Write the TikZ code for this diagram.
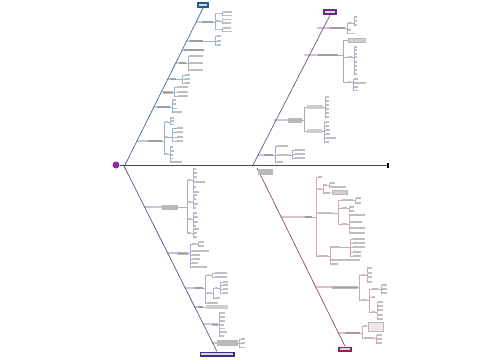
\documentclass[tikz,border=0pt]{standalone}
\usetikzlibrary{calc}
\definecolor{tlcol}{HTML}{1F5C99}
\definecolor{trcol}{HTML}{6B2D82}
\definecolor{blcol}{HTML}{3C2F8A}
\definecolor{brcol}{HTML}{8E2457}
\definecolor{headcol}{HTML}{8A2BB0}
\tikzset{
  leaf/.style={rectangle, anchor=west, fill=gray!50, inner sep=0pt, minimum height=1.6pt},
  leaftwo/.style={leaf, fill=gray!38, minimum height=4pt},
  lbl/.style={rectangle, anchor=west, fill=gray!75, inner sep=0pt, minimum height=2.6pt},
  lbltwo/.style={lbl, fill=gray!55, minimum height=5pt},
  boxed/.style={draw=gray!55, line width=0.4pt},
  twig/.style={draw=gray!60, line width=0.35pt},
  rib/.style={draw=gray!70, line width=0.55pt},
  bone/.style={line width=0.7pt},
  catbox/.style={rectangle, fill=#1, inner sep=0pt, minimum height=6pt}
}
% leaves fanned out from a parent node: [elbow]{parent}{x}{y/width,...}
\newcommand{\fanout}[4][1.5]{%
  \foreach \yy/\ww [count=\k] in {#4} {
    \node[leaf, minimum width=\ww] (#2-\k) at (#3,\yy) {};
    \draw[twig] (#2.east) -- ++(#1,0) |- (#2-\k.west);
  }}
% horizontal rib from a bone to a branch label
\newcommand{\ribline}[3]{%
  \draw[rib] (intersection of #1--#2 and #3.west--#3.east) -- (#3.west);}
\begin{document}
\begin{tikzpicture}[x=1pt,y=-1pt]
\useasboundingbox (0,0) rectangle (500,360);

% head, tail and spine
\node[circle, fill=headcol, minimum size=7pt, inner sep=0pt] (head) at (116,165) {};
\node[rectangle, fill=black, minimum width=1.4pt, minimum height=5pt, inner sep=0pt] (tail) at (388,165) {};
\draw[line width=0.9pt, gray!60!black] (head) -- (tail);

% category boxes
\node[catbox=tlcol, minimum width=12pt] (tltop) at (203,5) {};
\node[catbox=trcol, minimum width=14pt] (trtop) at (330,12) {};
\node[catbox=blcol, minimum width=35pt, minimum height=5pt] (blbot) at (217,354) {};
\node[catbox=brcol, minimum width=14pt, minimum height=5pt] (brbot) at (345,349) {};
\foreach \b in {tltop,trtop,blbot,brbot}
  \fill[white!70!gray] ($(\b.west)+(1.8,-0.7)$) rectangle ($(\b.east)+(-1.8,0.7)$);

% bones
\coordinate (tl-a) at (125,165);
\coordinate (tl-b) at (203,8);
\coordinate (tr-a) at (253,165);
\coordinate (tr-b) at (323,15);
\coordinate (bl-a) at (124,166);
\coordinate (bl-b) at (216,351.5);
\coordinate (br-a) at (257,168);
\coordinate (br-b) at (344,346.5);
\draw[bone, tlcol!60!gray] (tl-a) -- (tltop.south);
\draw[bone, trcol!55!gray] (tr-a) -- (trtop.south);
\draw[bone, blcol!55!gray] (bl-a) -- (blbot.north);
\draw[bone, brcol!55!gray] (br-a) -- (brbot.north);

% top left
\begin{scope}[twig/.append style={draw=tlcol!45}, rib/.append style={draw=tlcol!50!gray}]
\node[lbl, minimum width=11] (tl1) at (202,22) {};
\ribline{tl-a}{tl-b}{tl1}
\fanout{tl1}{216}{13.5/4,21/4,29.5/4}
\fanout{tl1-1}{223}{12/9,15.5/9}
\fanout{tl1-2}{223}{19.5/8,23/8}
\fanout{tl1-3}{223}{28/8,31.5/9}
\node[lbl, minimum width=13] (tl2) at (190,41) {};
\ribline{tl-a}{tl-b}{tl2}
\fanout[12]{tl2}{217}{36/4,41/4,45/4}
\node[lbl, minimum width=20] (tl3) at (184,50) {};
\ribline{tl-a}{tl-b}{tl3}
\node[lbl, minimum width=7] (tl4) at (179,63) {};
\ribline{tl-a}{tl-b}{tl4}
\fanout{tl4}{189}{56/14,63/14,70/14}
\node[lbl, minimum width=6] (tl5) at (170,79) {};
\ribline{tl-a}{tl-b}{tl5}
\fanout[6]{tl5}{185}{75/5,79/5,83/5}
\node[lbl, boxed, minimum width=9] (tl6) at (163,92) {};
\ribline{tl-a}{tl-b}{tl6}
\fanout{tl6}{178}{87/10,92/10,96/10}
\node[lbl, minimum width=13] (tl7) at (157,107) {};
\ribline{tl-a}{tl-b}{tl7}
\fanout{tl7}{172}{100/4,104/4,108.5/5,112/10}
\node[lbl, minimum width=14] (tl8) at (148,141) {};
\ribline{tl-a}{tl-b}{tl8}
\fanout{tl8}{165}{122/3,137/3,154/3}
\fanout{tl8-1}{170}{118/4,121/4,124.5/4}
\fanout[4]{tl8-2}{177}{128/6,132/6,137/6,141/6}
\fanout{tl8-3}{170}{147/3,151/4,155/3,158.5/3,162/12}
\end{scope}

% top right
\begin{scope}[twig/.append style={draw=trcol!45}, rib/.append style={draw=trcol!50!gray}]
\node[lbl, minimum width=15] (tr1) at (330,28) {};
\ribline{tr-a}{tr-b}{tr1}
\fanout[2]{tr1}{348}{23/4,30/3,33.5/7}
\fanout{tr1-1}{354}{17/3,21/3,25/3}
\node[lbl, minimum width=20] (tr2) at (318,55) {};
\ribline{tr-a}{tr-b}{tr2}
\fanout[5]{tr2}{348}{57/4,82/3}
\node[leaftwo, boxed, minimum width=17] (tr2-0) at (348,40) {};
\draw[twig] (tr2.east) -- ++(5,0) |- (tr2-0.west);
\fanout{tr2-1}{354}{47/3,50/3,54/3,57/3,62/3,66/3,70/3,74/3}
\fanout{tr2-2}{354}{79/4,83/12,87/4,90.5/4}
\node[lbltwo, minimum width=14] (tr3) at (288,120) {};
\ribline{tr-a}{tr-b}{tr3}
\node[leaftwo, minimum width=16] (tr3-a) at (307,107) {};
\node[leaftwo, minimum width=15] (tr3-b) at (307,131) {};
\foreach \s in {tr3-a,tr3-b}
  \draw[twig] (tr3.east) -- ++(2,0) |- (\s.west);
\fanout{tr3-a}{326}{97/3,101/3,105/3,109/3,113/3,117/3}
\fanout{tr3-b}{326}{122/3,126/3,130/4,134/4,138/10,142/3}
\node[lbl, minimum width=9] (tr4) at (264,155) {};
\ribline{tr-a}{tr-b}{tr4}
\fanout{tr4}{277}{146/11,155/13,162/6}
\fanout[2]{tr4-2}{295}{150/10,154/10,158/10}
\end{scope}

% bottom left
\begin{scope}[twig/.append style={draw=blcol!40}, rib/.append style={draw=blcol!45!gray}]
\node[lbltwo, minimum width=16] (bl1) at (162,207) {};
\ribline{bl-a}{bl-b}{bl1}
\fanout[9]{bl1}{188}{180/3,202/3,219/3,233/3}
\fanout{bl1-1}{193}{169/3,173/4,177/4,182/12,187/3,192/6}
\fanout{bl1-2}{193}{195/4,199/3,204/5,208/3}
\fanout{bl1-3}{193}{213/4,217/5,222/5,226/3}
\fanout{bl1-4}{193}{229/6,233/4,237/4}
\node[lbl, boxed, minimum width=10] (bl2) at (177,253) {};
\ribline{bl-a}{bl-b}{bl2}
\fanout[3]{bl2}{192}{244/4,251/17,255/8,259/8,263/6,267/15}
\fanout{bl2-1}{199}{242/5,246/5}
\node[lbl, minimum width=8] (bl3) at (195,288) {};
\ribline{bl-a}{bl-b}{bl3}
\fanout[2]{bl3}{207}{275/3,293/4,303/11}
\fanout{bl3-1}{215}{273/12,277/12}
\fanout{bl3-2}{215}{288/3,298/5}
\fanout[2]{bl3-2-1}{223}{282/5,285/5,289/5,293/5}
\node[lbl, minimum width=5] (bl4) at (198,307) {};
\ribline{bl-a}{bl-b}{bl4}
\node[leaftwo, minimum width=22] (bl4-1) at (206,307) {};
\draw[twig] (bl4.east) -- (bl4-1.west);
\node[lbl, boxed, minimum width=5] (bl5) at (212,324) {};
\ribline{bl-a}{bl-b}{bl5}
\fanout{bl5}{219}{313/6,317/6,321/6,325/5,328.5/6,332/8,336/5}
\node[lbltwo, boxed, minimum width=20] (bl6) at (217,343) {};
\ribline{bl-a}{bl-b}{bl6}
\fanout{bl6}{241}{339/4,343/4,347.5/4}
\end{scope}

% bottom right
\begin{scope}[twig/.append style={draw=brcol!40}, rib/.append style={draw=brcol!45!gray}]
\node[lbltwo, boxed, minimum width=14] (br0) at (258,171.5) {};
\node[lbl, minimum width=7] (br1) at (305,217) {};
\ribline{br-a}{br-b}{br1}
\fanout[4]{br1}{318}{177/4,189/3,213/14,256/10}
\fanout{br1-2}{323}{185/4,193/7}
\fanout{br1-2-1}{330}{183/5,187/16}
\node[leaftwo, boxed, minimum width=15] (br1-2-2-1) at (332,192) {};
\draw[twig] (br1-2-2.east) -- (br1-2-2-1.west);
\fanout[6]{br1-3}{342}{200/11,208/5,224/5}
\fanout{br1-3-1}{356}{198/5,203/5}
\fanout{br1-3-2}{349}{207/5,211/5}
\fanout{br1-3-3}{349}{215/16,222/13,228/16,233/16}
\fanout{br1-4}{330}{247/10,260/30,264/8}
\fanout[10]{br1-4-1}{353}{239/12,243/12,247/12,252/8,256/8}
\node[lbl, boxed, minimum width=25] (br2) at (332,287) {};
\ribline{br-a}{br-b}{br2}
\fanout[2]{br2}{361}{275/4,300/6}
\fanout{br2-1}{367}{268/5,273/5,277/5,282/5}
\fanout{br2-2}{372}{289/6,297/3,312/3}
\fanout[3]{br2-2-1}{382}{285/5,289/5,293/5}
\fanout{br2-2-3}{378}{302/5,306/5,310/5,315/5,319/5}
\node[lbl, minimum width=15] (br3) at (345,333) {};
\ribline{br-a}{br-b}{br3}
\fanout[2]{br3}{364}{326/3,338/10}
\node[leaftwo, boxed, fill=brcol!12, minimum width=15, minimum height=9pt] (br3-1-1) at (368,326.5) {};
\draw[twig] (br3-1.east) -- (br3-1-1.west);
\fanout{br3-2}{377}{335/5,339/5,343/5}
\end{scope}
\end{tikzpicture}
\end{document}
